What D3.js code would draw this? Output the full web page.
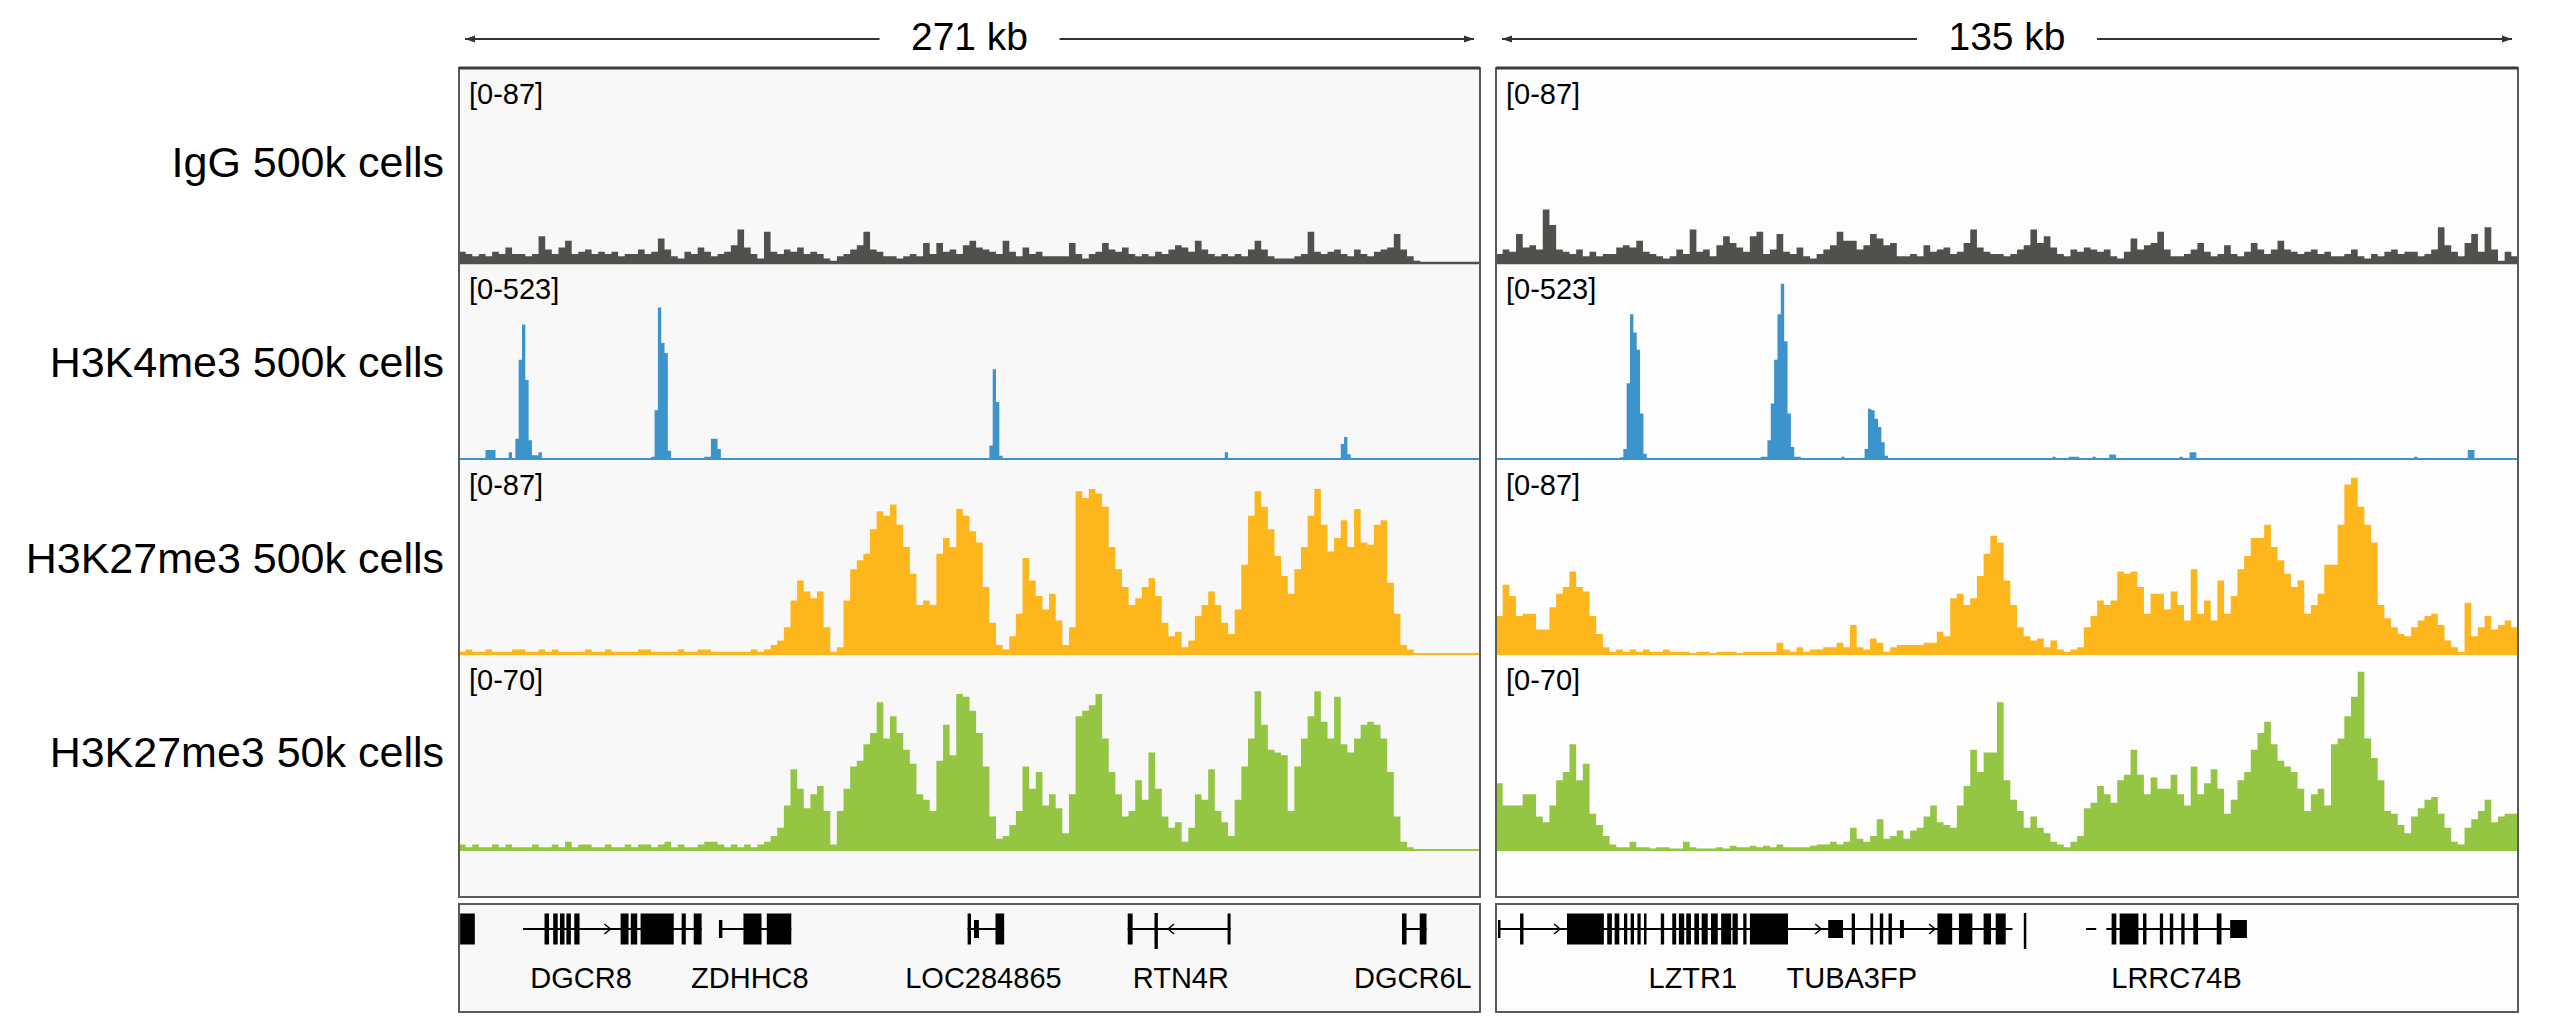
<!DOCTYPE html>
<html><head><meta charset="utf-8">
<script src="https://cdn.jsdelivr.net/npm/d3@7"></script>
<style>html,body{margin:0;padding:0;background:#fff;}svg{display:block}</style>
</head><body>
<svg id="chart" width="2560" height="1027"></svg>
<script>
// ---------------- DATA ----------------
const panelTitles = ["271 kb", "135 kb"];
const panelSpanKb = [271, 135];
const trackNames = ["IgG 500k cells", "H3K4me3 500k cells", "H3K27me3 500k cells", "H3K27me3 50k cells"];
const trackMax = [87, 523, 87, 70];
const trackColors = ["#50514c", "#3d93cb", "#fdb61c", "#94c543"];

// IgG 500k (bins across each panel)
const igGLeft = [5,4,3,4,3,5,4,7,4,4, 3,4,12,6,4,7,10,4,5,6, 4,5,4,5,3,4,4,6,4,5, 11,6,3,2,5,4,7,5,3,4,
  5,8,15,7,4,2,14,5,4,6, 5,7,4,5,4,2,1,3,4,6, 8,14,6,5,3,3,2,3,4,3, 9,4,9,5,6,4,8,10,7,6,
  5,4,10,5,3,7,4,5,3,3, 3,3,9,4,2,4,5,9,6,5, 7,4,3,4,3,5,4,6,8,7, 5,10,6,4,3,4,3,4,3,6,
  10,6,3,2,2,2,3,4,14,5, 4,5,6,4,3,6,4,3,5,6, 7,13,6,3,1,0,0,0,0,0, 0,0,0,0];
const igGRight = [4,6,5,13,7,8,6,24,17,6, 5,4,6,3,5,3,4,4,7,8, 7,10,5,4,3,2,3,6,4,15, 5,6,3,8,12,9,7,5,12,14,
  4,6,13,5,4,7,3,2,4,6, 8,14,10,10,6,8,13,11,8,9, 3,3,4,3,8,5,6,7,4,5, 9,15,7,5,4,4,3,4,6,8,
  15,9,12,7,4,3,6,5,7,6, 5,6,3,2,5,11,6,8,9,14, 6,3,3,4,6,9,5,3,4,8, 4,3,5,9,6,4,6,10,6,5,
  4,5,6,4,5,3,3,4,6,3, 2,4,3,5,6,4,5,5,3,4, 6,16,8,5,3,9,13,5,16,6, 1,5,3];

// H3K4me3 500k : sparse [bin, value] pairs, all other bins are 0
const k4LeftBins = 308;
const k4Left = [[8,24],[9,24],[10,24],[15,18],[17,54],[18,266],[19,361],[20,212],[21,50],[22,10],[23,10],[24,18],
  [58,6],[59,131],[60,406],[61,311],[62,284],[63,22],[74,6],[75,6],[76,54],[77,54],[78,27],
  [160,36],[161,241],[162,153],[163,9],[231,18],[266,40],[267,59],[268,13]];
const k4RightBins = 305;
const k4Right = [[37,5],[38,27],[39,203],[40,388],[41,339],[42,293],[43,122],[44,14],
  [79,6],[80,6],[81,50],[82,149],[83,266],[84,388],[85,470],[86,316],[87,122],[88,32],[89,6],[90,6],
  [103,6],[110,27],[111,135],[112,131],[113,108],[114,86],[115,45],[116,9],
  [166,6],[171,6],[172,6],[173,6],[178,6],[183,12],[184,12],[204,6],[207,18],[208,18],[274,6],[290,24],[291,24]];

// H3K27me3 500k
const k27Left = [1,2,1,1,2,1,1,1,2,2,1,1,2,1,2,1,1,1,1,2,1,1,2,1,1,1,1,2,2,1,1,1,1,2,1,1,2,2,1,1,1,1,1,1,2,1,
  2,4,6,12,24,33,28,25,28,12, 1,3,24,38,42,45,56,64,62,67, 58,48,36,22,24,22,45,52,48,65,
  62,55,50,30,14,4,2,8,18,43, 33,26,20,27,15,4,12,73,70,74, 72,66,48,38,30,22,25,30,34,26,
  14,8,10,3,6,17,22,28,22,14, 9,20,40,62,73,66,56,44,35,27, 38,48,62,74,58,46,52,60,48,65,
  50,49,58,60,32,18,4,2, 0,0,0,0,0,0,0,0,0,0];
const k27Right = [17,31,26,17,18,18,11,11,21,27,30,37,30,28,17,9,3,1,
  2,1,2,1,2,1,1,2,1, 1,1,0.5,1,1,0.5,1,1,1,0.5,1,1,1,1, 1,5,2,1,3,1,2,2,3,3,
  5,3,13,3,2,7,5,1,3,4,4,4,4,5,5,10,8,
  25,27,22,25,35,45,53,50,33,22, 12,8,6,7,3,6,2,1,2,3, 12,17,24,22,24,37,36,37,30,18,
  27,27,20,28,22,15,38,18,24,15, 33,18,26,38,44,52,52,58,48,42, 36,30,33,18,22,27,40,40,58,76,
  79,66,58,50,22,16,12,9,8,12, 15,17,18,13,6,3,1,23,8,12, 17,11,13,15,12];

// H3K27me3 50k
const k27sLeft = [2,1,2,1,1,2,1,2,1,1,1,2,1,1,2,1,3,1,2,2,1,1,2,1,1,2,1,2,2,1,2,3,1,2,1,1,2,3,3,2,1,2,1,2,1,2,
  3,5,8,16,29,22,15,20,23,14, 2,14,22,30,32,38,42,53,40,48, 42,36,31,20,18,14,32,45,34,56,
  55,50,42,30,12,4,5,9,14,30, 22,28,16,20,15,6,20,48,50,52, 56,40,28,20,12,14,25,18,35,22,
  12,8,10,3,8,20,18,29,14,10, 5,18,30,40,57,45,36,35,34,14, 30,40,48,57,46,40,55,38,35,40,
  45,46,45,40,28,12,3,1, 0,0,0,0,0,0,0,0,0,0];
const k27sRight = [24,16,16,16,20,20,12,10,16,25,28,38,25,31,13,9,5,2,
  1,1,3,1,1,0.5,1,1,0.5,0.5, 3,1,0.5,0.5,0.5,1,0.5,1.5,1,1, 1.5,1,1.5,1,2,1,1,1,1,1.5, 2,2,3,2,3,
  8,4,3,5,11,4,5,7,4,7,8,12,16,10,9,
  8,16,23,36,28,35,35,53,25,18, 14,8,12,8,6,3,2,1,3,5, 15,17,23,20,17,25,27,36,27,20,
  26,22,22,27,20,16,30,20,24,29, 22,13,18,25,28,36,42,46,38,32, 30,28,22,14,20,22,16,38,40,48,
  55,64,40,33,25,14,13,9,6,12, 15,18,19,13,8,3,2,8,11,14, 18,10,12,13,13];

// Gene annotation (kb from panel start). exon kind: 0 = UTR (thin), 1 = coding, 2 = tall
const leftGeneLines = [[17.0,64.4],[69.0,88.2],[135.0,144.7],[177.5,204.8],[250.3,256.8]];
const leftExons = [[0.3,4.2,1],[22.7,23.9,1],[25.0,26.2,1],[26.8,28.0,1],[28.5,29.7,1],[30.6,32.0,1],
  [42.9,45.0,1],[45.6,47.3,1],[48.2,57.0,1],[59.1,60.2,1],[62.3,64.4,1],[69.0,69.9,0],[75.5,80.3,1],[81.7,88.2,1],
  [135.0,135.9,1],[136.7,138.0,0],[142.4,144.7,1],[177.5,178.8,1],[184.6,185.5,2],[204.0,204.8,1],
  [250.3,251.5,1],[255.0,256.8,1]];
const leftStrandArrows = [[39.4,1],[189.0,-1]];
const leftGeneNames = ["DGCR8","ZDHHC8","LOC284865","RTN4R","DGCR6L"];
const leftGeneLabelKb = [32.4,77.2,139.2,191.6,253.2];

const rightGeneLines = [[0.26,68.22],[77.95,79.29],[80.61,96.98]];
const rightExons = [[0.26,0.45,0],[3.18,3.63,1],[9.38,14.25,1],[14.69,15.31,1],[15.67,16.29,1],[16.91,17.34,1],
  [17.79,18.23,1],[18.68,19.11,1],[19.55,19.82,1],[21.77,22.21,1],[23.28,23.80,1],[24.16,24.86,1],[25.13,25.75,1],
  [26.20,26.82,1],[27.17,27.97,1],[28.40,29.29,1],[29.74,31.06,1],[31.24,31.94,1],[32.66,33.09,1],[33.54,38.57,1],
  [43.88,45.84,0],[46.99,47.42,1],[49.46,49.82,1],[50.70,51.15,1],[51.85,52.30,1],[53.36,53.88,0],[58.31,60.26,1],
  [61.15,62.92,1],[64.41,65.39,1],[66.01,67.33,1],[69.72,69.95,2],
  [81.32,81.94,1],[82.38,84.86,1],[85.47,85.92,1],[87.69,88.12,1],[89.01,89.46,1],[90.52,90.96,1],[92.11,92.74,1],
  [95.21,95.83,1],[96.98,99.19,0]];
const rightStrandArrows = [[8.06,1],[42.56,1],[57.6,1]];
const rightGeneNames = ["LZTR1","TUBA3FP","LRRC74B"];
const rightGeneLabelKb = [26.0,47.0,89.9];

// ---------------- LAYOUT ----------------
const FONT = "'Liberation Sans', Arial, Helvetica, sans-serif";
const svg = d3.select("#chart");
const panelX = [459, 1496];
const panelW = [1021, 1022];
const boxTop = 68, boxBottom = 897;
const trackTop = [69, 264, 460, 655];
const trackBase = [263, 459, 654, 850];
const labelBase = [177, 377, 573, 767];
const geneTop = 904, geneBottom = 1012;
const panelBg = ["#f9f8f8", "#fdfdfd"];

const panels = [
  {sig: [igGLeft, expand(k4Left, k4LeftBins), k27Left, k27sLeft],
   lines: leftGeneLines, exons: leftExons, arrows: leftStrandArrows, names: leftGeneNames, namePos: leftGeneLabelKb},
  {sig: [igGRight, expand(k4Right, k4RightBins), k27Right, k27sRight],
   lines: rightGeneLines, exons: rightExons, arrows: rightStrandArrows, names: rightGeneNames, namePos: rightGeneLabelKb}
];

function expand(pairs, n) {
  const a = new Array(n).fill(0);
  pairs.forEach(([i, v]) => { a[i] = v; });
  return a;
}

const defs = svg.append("defs");
defs.append("marker").attr("id", "ah").attr("viewBox", "0 0 10 8")
  .attr("refX", 10).attr("refY", 4).attr("markerWidth", 10).attr("markerHeight", 8)
  .attr("markerUnits", "userSpaceOnUse").attr("orient", "auto-start-reverse")
  .append("path").attr("d", "M0,0.5 L10,4 L0,7.5 Z").attr("fill", "#333");

// Row labels
trackNames.forEach((t, i) => {
  svg.append("text").attr("x", 444).attr("y", labelBase[i]).attr("text-anchor", "end")
    .attr("font-family", FONT).attr("font-size", 43).attr("fill", "#000").text(t);
});

panels.forEach((p, pi) => {
  const x0 = panelX[pi], w = panelW[pi];
  const x = d3.scaleLinear().domain([0, panelSpanKb[pi]]).range([x0, x0 + w]);

  // title arrow
  const cx = x0 + w / 2;
  const titleY = 39;
  svg.append("text").attr("x", cx).attr("y", 50).attr("text-anchor", "middle")
    .attr("font-family", FONT).attr("font-size", 39).attr("fill", "#000").text(panelTitles[pi]);
  const gap = 90;
  svg.append("line").attr("x1", cx - gap).attr("x2", x0 + 6).attr("y1", titleY).attr("y2", titleY)
    .attr("stroke", "#333").attr("stroke-width", 2).attr("marker-end", "url(#ah)");
  svg.append("line").attr("x1", cx + gap).attr("x2", x0 + w - 6).attr("y1", titleY).attr("y2", titleY)
    .attr("stroke", "#333").attr("stroke-width", 2).attr("marker-end", "url(#ah)");

  // panel background
  svg.append("rect").attr("x", x0).attr("y", boxTop).attr("width", w).attr("height", boxBottom - boxTop)
    .attr("fill", panelBg[pi]);

  const clipId = "clip" + pi;
  defs.append("clipPath").attr("id", clipId).append("rect")
    .attr("x", x0).attr("y", boxTop).attr("width", w).attr("height", boxBottom - boxTop);
  const g = svg.append("g").attr("clip-path", `url(#${clipId})`);

  p.sig.forEach((vals, ti) => {
    const y = d3.scaleLinear().domain([0, trackMax[ti]]).range([trackBase[ti], trackTop[ti]]);
    const n = vals.length, bw = panelSpanKb[pi] / n;
    const pts = vals.map((v, i) => [i * bw, v]);
    pts.push([panelSpanKb[pi], vals[n - 1]]);
    const area = d3.area().x(d => x(d[0])).y0(trackBase[ti]).y1(d => y(d[1])).curve(d3.curveStepAfter);
    g.append("path").attr("d", area(pts)).attr("fill", trackColors[ti]);
    g.append("line").attr("x1", x0).attr("x2", x0 + w).attr("y1", trackBase[ti]).attr("y2", trackBase[ti])
      .attr("stroke", trackColors[ti]).attr("stroke-width", ti === 0 ? 2.5 : 2);
    svg.append("text").attr("x", x0 + 10).attr("y", trackTop[ti] + 35)
      .attr("font-family", FONT).attr("font-size", 29).attr("fill", "#000")
      .text(`[0-${trackMax[ti]}]`);
  });

  // panel border
  svg.append("rect").attr("x", x0).attr("y", boxTop).attr("width", w).attr("height", boxBottom - boxTop)
    .attr("fill", "none").attr("stroke", "#5a5a5a").attr("stroke-width", 2);
  svg.append("line").attr("x1", x0).attr("x2", x0 + w).attr("y1", boxTop).attr("y2", boxTop)
    .attr("stroke", "#3c3c3c").attr("stroke-width", 3);

  // gene track box
  svg.append("rect").attr("x", x0).attr("y", geneTop).attr("width", w).attr("height", geneBottom - geneTop)
    .attr("fill", panelBg[pi]).attr("stroke", "#5a5a5a").attr("stroke-width", 2);
  const gg = svg.append("g");
  const midY = 929;
  p.lines.forEach(([a, b]) => {
    gg.append("line").attr("x1", x(a)).attr("x2", x(b)).attr("y1", midY).attr("y2", midY)
      .attr("stroke", "#000").attr("stroke-width", 2);
  });
  p.exons.forEach(([a, b, k]) => {
    const h = k === 0 ? 18 : (k === 2 ? 36 : 31);
    const yy = k === 2 ? 913 : midY - h / 2;
    const wx = Math.max(2.5, x(b) - x(a));
    gg.append("rect").attr("x", x(a)).attr("y", yy).attr("width", wx).attr("height", h).attr("fill", "#000");
  });
  p.arrows.forEach(([a, dir]) => {
    const ax = x(a);
    gg.append("path").attr("d", `M${ax - 3 * dir},${midY - 5} L${ax + 3 * dir},${midY} L${ax - 3 * dir},${midY + 5}`)
      .attr("fill", "none").attr("stroke", "#000").attr("stroke-width", 1.5);
  });
  p.names.forEach((nm, i) => {
    gg.append("text").attr("x", x(p.namePos[i])).attr("y", 988).attr("text-anchor", "middle")
      .attr("font-family", FONT).attr("font-size", 29).attr("fill", "#000").text(nm);
  });
});
</script>
</body></html>
